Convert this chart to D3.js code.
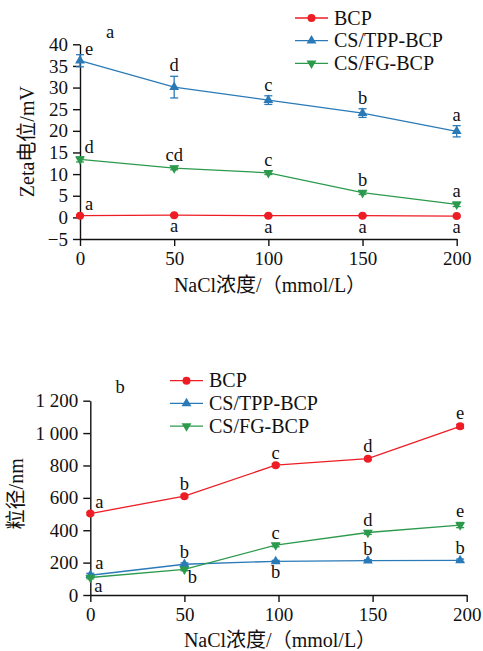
<!DOCTYPE html>
<html lang="zh">
<head>
  <meta charset="UTF-8" />
  <title>NaCl浓度对Zeta电位和粒径的影响</title>
  <script src="https://d3js.org/d3.v7.min.js"></script>
  <style>
    body { margin: 0; background: #fff; }
    svg { display: block; }
    .axis path, .axis line { stroke: #111; stroke-width: 1.4; }
  </style>
</head>
<body>
  <svg id="chart" width="483" height="651"></svg>

  <script>
    // NaCl concentrations (mmol/L)
    const nacl = [0, 50, 100, 150, 200];
    const naclSize = [0, 50, 98.5, 147.5, 196.5]; // points in panel b sit slightly left of the ticks
    const seriesNames = ["BCP", "CS/TPP-BCP", "CS/FG-BCP"];

    // panel a: zeta potential (mV)
    const zetaBCP = [0.4, 0.5, 0.4, 0.4, 0.3];
    const zetaBCPErr = [0.2, 0.2, 0.2, 0.2, 0.2];
    const zetaTPP = [36.2, 30.1, 27.1, 24.1, 19.9];
    const zetaTPPErr = [1.4, 2.5, 1.0, 1.0, 1.3];
    const zetaFG = [13.4, 11.4, 10.3, 5.7, 3.0];
    const zetaFGErr = [0.6, 0.4, 0.4, 0.4, 0.5];
    const zetaLetters = [
      ["a", "a", "a", "a", "a"],
      ["e", "d", "c", "b", "a"],
      ["d", "cd", "c", "b", "a"]
    ];
    const zetaTicks = [-5, 0, 5, 10, 15, 20, 25, 30, 35, 40];

    // panel b: particle size (nm)
    const sizeBCP = [503, 610, 802, 842, 1042];
    const sizeBCPErr = [8, 8, 8, 8, 12];
    const sizeTPP = [122, 190, 208, 212, 214];
    const sizeTPPErr = [12, 8, 6, 6, 8];
    const sizeFG = [108, 158, 308, 386, 432];
    const sizeFGErr = [8, 8, 10, 12, 16];
    const sizeLetters = [
      ["a", "b", "c", "d", "e"],
      ["a", "b", "b", "b", "b"],
      ["a", "b", "c", "d", "e"]
    ];
    const sizeTicks = [0, 200, 400, 600, 800, 1000, 1200];

    // where each significance letter goes (layout only)
    const zetaPlace = [
      ["tr", "b", "b", "b", "b"],
      ["tr", "t", "t", "t", "t"],
      ["tr", "t", "t", "t", "t"]
    ];
    const sizePlace = [
      ["tr", "t", "t", "t", "t"],
      ["tr", "t", "b", "t", "t"],
      ["br", "br", "t", "t", "t"]
    ];

    const colors = ["#ee1d25", "#2a7ab8", "#2c9a4c"];
    const markers = [d3.symbolCircle, d3.symbolTriangle, d3.symbolTriangle];
    const markerRot = [0, 0, 180];
    const FONT = '"Liberation Serif", "Noto Sans CJK SC"';

    const svg = d3.select("#chart");
    const spaceFmt = d3.formatLocale({ decimal: ".", thousands: " ", grouping: [3], currency: ["", ""] }).format(",");

    function addText(x, y, str, anchor, size) {
      return svg.append("text")
        .attr("x", x).attr("y", y)
        .attr("text-anchor", anchor || "start")
        .attr("font-family", FONT).attr("font-size", size || 18).attr("fill", "#111")
        .text(str);
    }

    function drawPanel(opt) {
      const x = d3.scaleLinear().domain([0, 200]).range([opt.left, opt.right]);
      const y = d3.scaleLinear().domain(opt.yDomain).range([opt.bottom, opt.top]);

      const gx = svg.append("g")
        .attr("class", "axis")
        .attr("transform", `translate(0,${opt.bottom})`)
        .call(d3.axisBottom(x).tickValues(nacl).tickSize(7).tickSizeOuter(0).tickPadding(6));
      const gy = svg.append("g")
        .attr("class", "axis")
        .attr("transform", `translate(${opt.left},0)`)
        .call(d3.axisLeft(y).tickValues(opt.yTicks).tickSize(7).tickSizeOuter(0).tickPadding(5)
          .tickFormat(opt.yFormat));
      [gx, gy].forEach(g => {
        g.attr("font-family", FONT).attr("font-size", 19);
        g.selectAll("text").attr("font-family", FONT).attr("font-size", 19).attr("fill", "#111");
      });

      opt.series.forEach((vals, i) => {
        const errs = opt.errors[i];
        const pts = vals.map((v, j) => ({ x: opt.xs[j], v, e: errs[j], letter: opt.letters[i][j], place: opt.place[i][j] }));
        const g = svg.append("g");

        g.append("path")
          .datum(pts)
          .attr("fill", "none")
          .attr("stroke", colors[i])
          .attr("stroke-width", 1.3)
          .attr("d", d3.line().x(d => x(d.x)).y(d => y(d.v)));

        const eb = g.selectAll(".err").data(pts).enter().append("g").attr("stroke", colors[i]).attr("stroke-width", 1.3);
        eb.append("line").attr("x1", d => x(d.x)).attr("x2", d => x(d.x))
          .attr("y1", d => y(d.v - d.e)).attr("y2", d => y(d.v + d.e));
        eb.append("line").attr("x1", d => x(d.x) - 4).attr("x2", d => x(d.x) + 4)
          .attr("y1", d => y(d.v + d.e)).attr("y2", d => y(d.v + d.e));
        eb.append("line").attr("x1", d => x(d.x) - 4).attr("x2", d => x(d.x) + 4)
          .attr("y1", d => y(d.v - d.e)).attr("y2", d => y(d.v - d.e));

        g.selectAll(".mk").data(pts).enter().append("path")
          .attr("d", d3.symbol().type(markers[i]).size(i === 0 ? 50 : 42))
          .attr("transform", d => `translate(${x(d.x)},${y(d.v)}) rotate(${markerRot[i]})`)
          .attr("fill", colors[i]);

        pts.forEach(d => {
          const lx = x(d.x) + (d.place === "tr" ? 9 : d.place === "br" ? 8 : 0);
          let ly;
          if (d.place === "t") ly = y(d.v + d.e) - 5;
          else if (d.place === "tr") ly = y(d.v) - 6;
          else if (d.place === "br") ly = y(d.v) + 14;
          else ly = y(d.v) + 17;
          addText(lx, ly, d.letter, "middle", 18.5);
        });
      });

      // legend
      seriesNames.forEach((name, i) => {
        const cy = opt.legendY + i * 22.7;
        svg.append("line").attr("x1", opt.legendX).attr("x2", opt.legendX + 33)
          .attr("y1", cy).attr("y2", cy).attr("stroke", colors[i]).attr("stroke-width", 1.3);
        svg.append("path")
          .attr("d", d3.symbol().type(markers[i]).size(i === 0 ? 50 : 42))
          .attr("transform", `translate(${opt.legendX + 16.5},${cy}) rotate(${markerRot[i]})`)
          .attr("fill", colors[i]);
        addText(opt.legendX + 39, cy + 6.5, name, "start", 20);
      });

      // panel tag
      addText(opt.tagX, opt.tagY, opt.tag, "middle", 18.5);

      // axis titles
      addText(0, 0, opt.yTitle, "middle", 20)
        .attr("transform", `translate(${opt.yTitleX},${(opt.top + opt.bottom) / 2 + opt.yTitleShift}) rotate(-90)`);
      addText(opt.xTitleX, opt.xTitleY, "NaCl浓度/（mmol/L）", "middle", 20);
    }

    drawPanel({
      left: 80, right: 456.7, top: 44.3, bottom: 239,
      yDomain: [-5, 40], yTicks: zetaTicks, yFormat: d3.format("d"),
      xs: nacl,
      series: [zetaBCP, zetaTPP, zetaFG],
      errors: [zetaBCPErr, zetaTPPErr, zetaFGErr],
      letters: zetaLetters, place: zetaPlace,
      legendX: 295, legendY: 18,
      tag: "a", tagX: 110, tagY: 38,
      yTitle: "Zeta电位/mV", yTitleX: 34, yTitleShift: 0,
      xTitleX: 270, xTitleY: 292
    });

    drawPanel({
      left: 90.3, right: 466.7, top: 400.7, bottom: 595,
      yDomain: [0, 1200], yTicks: sizeTicks, yFormat: spaceFmt,
      xs: naclSize,
      series: [sizeBCP, sizeTPP, sizeFG],
      errors: [sizeBCPErr, sizeTPPErr, sizeFGErr],
      letters: sizeLetters, place: sizePlace,
      legendX: 170, legendY: 380.7,
      tag: "b", tagX: 120, tagY: 393,
      yTitle: "粒径/nm", yTitleX: 23, yTitleShift: -4,
      xTitleX: 280, xTitleY: 647
    });
  </script>
</body>
</html>
